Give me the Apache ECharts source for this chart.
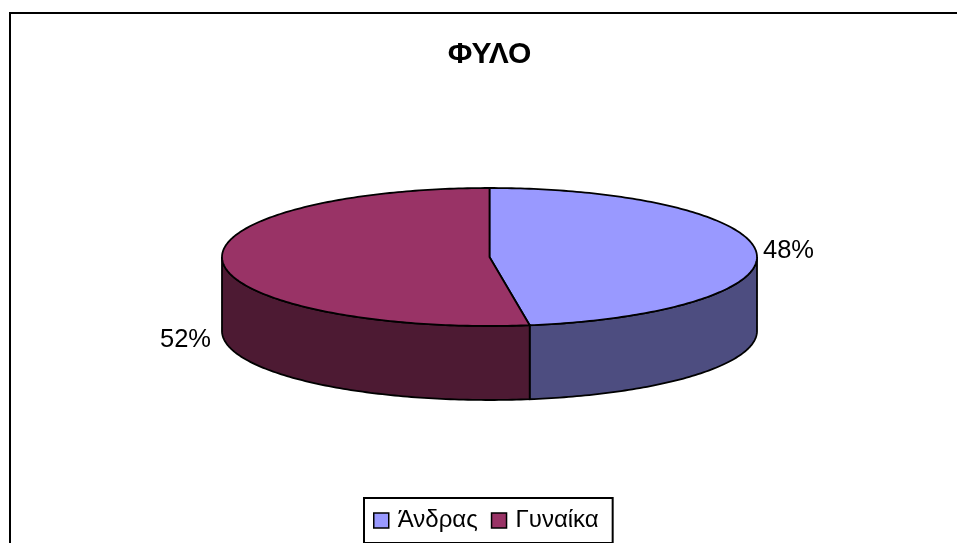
<!DOCTYPE html>
<html>
<head>
<meta charset="utf-8">
<title>ΦΥΛΟ</title>
<style>
  html, body { margin: 0; padding: 0; background: #fff; }
  #main { width: 957px; height: 543px; }
</style>
<script src="https://cdn.jsdelivr.net/npm/echarts@6/dist/echarts.min.js"></script>
</head>
<body>
<div id="main"></div>
<script>
const chartTitle = 'ΦΥΛΟ';
const categories = ['Άνδρας', 'Γυναίκα'];
const values = [47.6, 52.4];
const topColors = ['#9999FF', '#993366'];
const sideColors = ['#4D4D80', '#4D1A33'];

// the tilted disc
const cx = 489.5, cy = 257, rx = 267.5, ry = 69, depth = 74;
const font = 'Liberation Sans, Arial, sans-serif';

const total = values.reduce((a, b) => a + b, 0);

function rimPoint (a, dy) {
  return [cx + rx * Math.sin(a), cy + dy - ry * Math.cos(a)];
}

function arc (from, to, dy) {
  const pts = [];
  const n = Math.max(2, Math.ceil(Math.abs(to - from) * 60));
  for (let i = 0; i <= n; i++) {
    pts.push(rimPoint(from + (to - from) * i / n, dy));
  }
  return pts;
}

function sliceRange (idx) {
  let before = 0;
  for (let i = 0; i < idx; i++) before += values[i];
  return [before / total * 2 * Math.PI, (before + values[idx]) / total * 2 * Math.PI];
}

// side wall first, then the top face, only the front half of the rim has a wall
function renderSlice (idx) {
  return function (params, api) {
    const range = sliceRange(api.value(0));
    const a0 = range[0], a1 = range[1];
    const children = [];
    const s0 = Math.max(a0, Math.PI / 2), s1 = Math.min(a1, 3 * Math.PI / 2);
    const lineStyle = { stroke: '#000', lineWidth: 1.8 };
    if (s1 > s0) {
      const pts = arc(s0, s1, 0).concat(arc(s1, s0, depth));
      children.push({ type: 'polygon', shape: { points: pts }, style: Object.assign({ fill: sideColors[idx] }, lineStyle) });
    }
    const topPts = [[cx, cy]].concat(arc(a0, a1, 0));
    children.push({ type: 'polygon', shape: { points: topPts }, style: Object.assign({ fill: topColors[idx] }, lineStyle) });
    return { type: 'group', children: children };
  };
}

function renderLabel (idx, x, y) {
  return {
    type: 'text',
    style: { text: Math.round(values[idx] / total * 100) + '%', x: x, y: y, font: '25.5px ' + font, fill: '#000', align: 'left', verticalAlign: 'middle' }
  };
}

const labelPos = [[763, 251], [160, 340]];

const series = categories.map(function (name, i) {
  const draw = renderSlice(i);
  return {
    name: name,
    type: 'custom',
    coordinateSystem: 'none',
    silent: true,
    animation: false,
    clip: false,
    itemStyle: { color: topColors[i] },
    data: [[i]],
    renderItem: function (params, api) {
      const g = draw(params, api);
      g.children.push(renderLabel(i, labelPos[i][0], labelPos[i][1]));
      return g;
    }
  };
});

const chart = echarts.init(document.getElementById('main'), null, { renderer: 'canvas' });
chart.setOption({
  backgroundColor: '#fff',
  animation: false,
  title: {
    text: chartTitle,
    left: 484.5,
    top: 35,
    textAlign: 'center',
    textStyle: { fontFamily: font, fontSize: 30, fontWeight: 'bold', color: '#000' }
  },
  legend: {
    data: categories.map(function (name, i) {
      return { name: name, icon: 'rect', itemStyle: { color: topColors[i], borderColor: '#000', borderWidth: 1.5 } };
    }),
    left: 364,
    top: 498,
    width: 250,
    itemWidth: 15,
    itemHeight: 15,
    itemGap: 13,
    padding: [9, 14, 9, 9],
    borderColor: '#000',
    borderWidth: 2,
    selectedMode: false,
    textStyle: { fontFamily: font, fontSize: 24, lineHeight: 27, color: '#000', padding: [0, 0, 0, 4] }
  },
  graphic: [
    { type: 'line', shape: { x1: 10, y1: 13, x2: 957, y2: 13 }, style: { stroke: '#000', lineWidth: 2 } },
    { type: 'line', shape: { x1: 10, y1: 12, x2: 10, y2: 543 }, style: { stroke: '#000', lineWidth: 2 } }
  ],
  series: series
});
</script>
</body>
</html>
